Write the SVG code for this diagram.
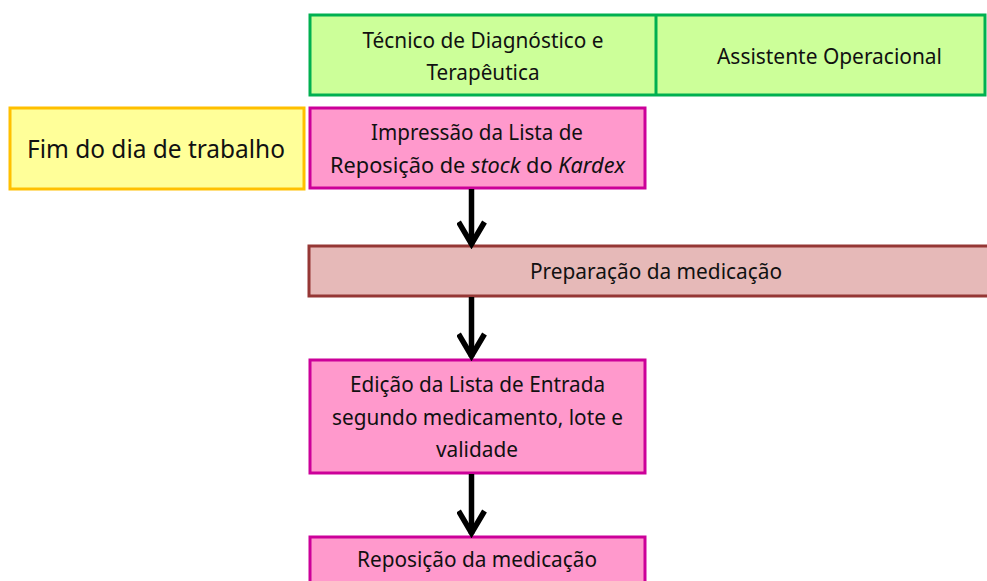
<svg xmlns="http://www.w3.org/2000/svg" width="987" height="581" viewBox="0 0 987 581">
<style>
text{font-family:"Noto Sans","Open Sans","Liberation Sans",sans-serif;font-size:22px;fill:#111;text-anchor:middle}
.hdr{fill:#ccff99;stroke:#00b050;stroke-width:3}
.start{fill:#ffff99;stroke:#ffc000;stroke-width:3}
.act{fill:#ff99cc;stroke:#cc0099;stroke-width:3}
.prep{fill:#e6b9b8;stroke:#953735;stroke-width:3}
.conn{stroke:#000;stroke-width:5.5;fill:none;marker-end:url(#chev)}
.big{font-size:26px}
</style>
<defs>
<marker id="chev" viewBox="0 0 30 30" markerWidth="30" markerHeight="30" refX="26" refY="15" orient="auto" markerUnits="userSpaceOnUse">
<path d="M3,2 L25,15 L3,28" fill="none" stroke="#000" stroke-width="5.5"/>
</marker>
</defs>
<g id="header">
<rect class="hdr" x="310" y="15" width="675" height="80"/>
<line x1="656" y1="15" x2="656" y2="95" stroke="#00b050" stroke-width="3"/>
<text x="483" y="48" textLength="241" lengthAdjust="spacingAndGlyphs">Técnico de Diagnóstico e</text>
<text x="483" y="80" textLength="113" lengthAdjust="spacingAndGlyphs">Terapêutica</text>
<text x="829.5" y="64" textLength="225" lengthAdjust="spacingAndGlyphs">Assistente Operacional</text>
</g>
<g id="n-fim">
<rect class="start" x="10" y="108" width="294" height="81"/>
<text class="big" x="156" y="158" textLength="258" lengthAdjust="spacingAndGlyphs">Fim do dia de trabalho</text>
</g>
<g id="n-impressao">
<rect class="act" x="310" y="108" width="335" height="80"/>
<text x="477" y="140" textLength="212" lengthAdjust="spacingAndGlyphs">Impressão da Lista de</text>
<text x="477.5" y="173" textLength="295" lengthAdjust="spacingAndGlyphs">Reposição de <tspan font-style="italic">stock</tspan>  do <tspan font-style="italic">Kardex</tspan></text>
</g>
<g id="n-preparacao">
<rect class="prep" x="309" y="246" width="690" height="50"/>
<text x="656" y="279" textLength="252" lengthAdjust="spacingAndGlyphs">Preparação da medicação</text>
</g>
<g id="n-edicao">
<rect class="act" x="310" y="360" width="335" height="113"/>
<text x="477.5" y="392" textLength="255" lengthAdjust="spacingAndGlyphs">Edição da Lista de Entrada</text>
<text x="477.5" y="425" textLength="291" lengthAdjust="spacingAndGlyphs">segundo medicamento, lote e</text>
<text x="477" y="457" textLength="82" lengthAdjust="spacingAndGlyphs">validade</text>
</g>
<g id="n-reposicao">
<rect class="act" x="310" y="537" width="335" height="60"/>
<text x="477" y="567" textLength="240" lengthAdjust="spacingAndGlyphs">Reposição da medicação</text>
</g>
<g id="connectors">
<line class="conn" x1="471.5" y1="189" x2="471.5" y2="245"/>
<line class="conn" x1="471.5" y1="297" x2="471.5" y2="357"/>
<line class="conn" x1="471.5" y1="474" x2="471.5" y2="534"/>
</g>
</svg>
